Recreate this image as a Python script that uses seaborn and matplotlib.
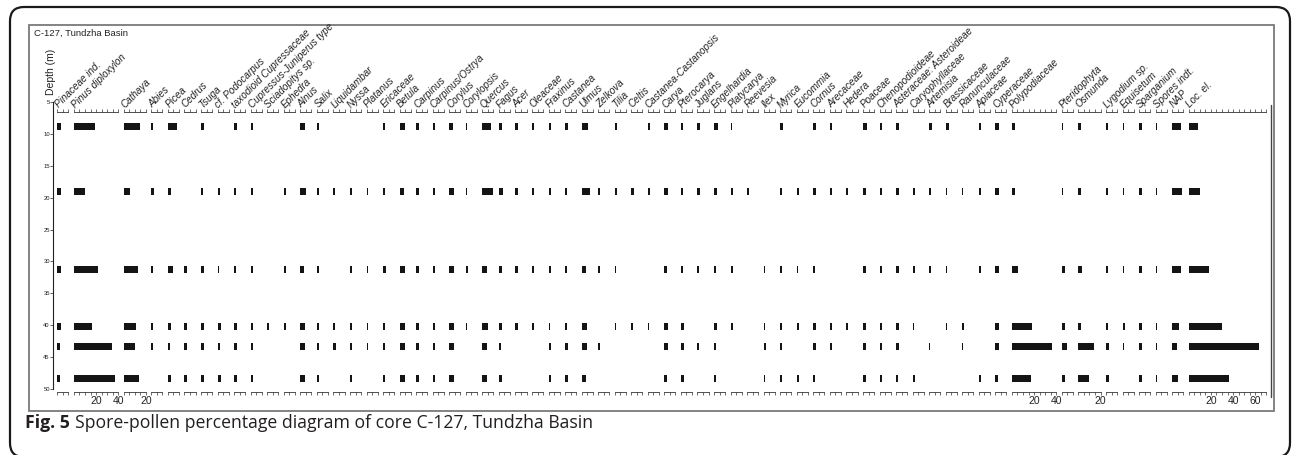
import numpy as np
import pandas as pd
import matplotlib
matplotlib.use("Agg")
import matplotlib.pyplot as plt
import seaborn as sns
from matplotlib.patches import FancyBboxPatch, Rectangle
from matplotlib.lines import Line2D
from matplotlib.transforms import IdentityTransform
from matplotlib.ticker import FixedLocator, FuncFormatter

sns.set_style("white")
plt.rcParams["font.family"] = ["Liberation Sans", "DejaVu Sans"]

# ---------------------------------------------------------------- data
depths = [8.9, 19.0, 31.2, 40.2, 43.3, 48.3]   # sample depths (m)

taxa = [
    "Pinaceae ind.", "Pinus diploxylon", "Cathaya", "Abies", "Picea", "Cedrus",
    "Tsuga", "cf. Podocarpus", "taxodioid Cupressaceae", "Cupressus-Juniperus type",
    "Sciadopitys sp.", "Ephedra", "Alnus", "Salix", "Liquidambar", "Nyssa",
    "Platanus", "Ericaceae", "Betula", "Carpinus", "Carpinus/Ostrya", "Corylus",
    "Corylopsis", "Quercus", "Fagus", "Acer", "Oleaceae", "Fraxinus", "Castanea",
    "Ulmus", "Zelkova", "Tilia", "Celtis", "Castanea-Castanopsis", "Carya",
    "Pterocarya", "Juglans", "Engelhardia", "Platycarya", "Reevesia", "Ilex",
    "Myrica", "Eucommia", "Cornus", "Arecaceae", "Hedera", "Poaceae",
    "Chenopodioideae", "Asteraceae: Asteroideae", "Caryophyllaceae", "Artemisia",
    "Brassicaceae", "Ranunculaceae", "Apiaceae", "Cyperaceae", "Polypodiaceae",
    "Pteridophyta", "Osmunda", "Lygodium sp.", "Equisetum", "Sparganium",
    "Spores indt.", "NAP", "Loc. el.",
]

# percentage-axis maximum of every column
axis_max = [10, 40, 20] + [10] * 52 + [40, 10, 20, 10, 10, 10, 10, 10, 70]

# percentages per sample, in the order of `taxa`
pct_8_9m = [3, 19.5, 14.5, 1.5, 8, 0, 2.5, 0, 2.5, 2,
            0, 0, 4, 2, 0, 0, 0, 1.5, 5, 2.5,
            2, 3, 1.5, 7.5, 3, 2, 2, 2, 2.5, 5.5,
            0, 2, 0, 1.5, 3, 2, 2, 3.5, 1, 0,
            0, 2.5, 0, 2.5, 2, 0, 3.5, 2.5, 2.5, 0,
            2.5, 2.5, 0, 2, 3, 3, 1.5, 2.5, 1.5, 1.5,
            2.5, 1, 7.5, 8.5]
pct_19_0m = [3, 10, 6, 2, 3, 0, 2, 2, 2, 2,
             0, 2, 5, 2, 1.5, 2, 1.5, 2, 4, 2.5,
             2, 4.5, 1.5, 10, 3.5, 2, 2, 2, 2, 7.5,
             1.5, 2, 2, 1.5, 3, 2, 2, 2.5, 2, 1.5,
             0, 2, 2, 2, 2, 1.5, 2.5, 2.5, 3, 2,
             1.5, 1.5, 1, 2, 3, 3, 1.5, 2, 1.5, 1.5,
             2.5, 1.5, 8.5, 10.5]
pct_31_2m = [3, 22, 13, 1.5, 5, 2, 3, 1.5, 2, 2.5,
             0, 2, 3.5, 2, 0, 2, 1, 2.5, 4.5, 2.5,
             2.5, 4.5, 2, 4.5, 2.5, 2, 2, 2, 2, 3.5,
             2, 1.5, 0, 0, 2.5, 2, 1.5, 2, 2, 0,
             1.5, 2, 1.5, 1.5, 0, 0, 2.5, 2, 2.5, 2,
             1.5, 1.5, 0, 1.5, 3, 5.5, 2.5, 3, 1.5, 1.5,
             3, 1.5, 7.5, 18]
pct_40_2m = [3.5, 16.5, 11.5, 1.5, 3, 2, 2.5, 3, 3, 2,
             2, 2, 4.5, 2, 1.5, 2, 1.5, 2, 4.5, 2.5,
             2, 4, 1.5, 5, 2.5, 2, 2, 1.5, 2, 4.5,
             0, 1.5, 1.5, 1, 3.5, 2.5, 0, 2.5, 2, 0,
             1.5, 2, 2, 2.5, 2, 1.5, 2.5, 2, 3, 1.5,
             0, 1.5, 1.5, 0, 3, 18, 2.5, 2.5, 1.5, 2,
             2.5, 1.5, 6, 30]
pct_43_3m = [2.5, 34.5, 10.5, 1.5, 2, 2, 2.5, 2.5, 3, 2,
             0, 0, 4.5, 2, 2, 2, 1.5, 2, 4.5, 3,
             2, 4, 0, 4.5, 2, 0, 0, 2, 2.5, 4.5,
             2, 0, 0, 0, 3, 2.5, 1.5, 2, 0, 0,
             2, 2, 0, 2, 1.5, 0, 2.5, 2.5, 2.5, 0,
             1, 0, 1, 0, 3, 36, 5, 14, 2.5, 1.5,
             3, 1.5, 4.5, 63.5]
pct_48_3m = [2.5, 37, 13.5, 0, 3, 2, 2.5, 3, 3, 2.5,
             0, 0, 4.5, 2, 0, 2, 0, 2, 4.5, 2.5,
             2.5, 4, 0, 4.5, 2.5, 0, 0, 2, 2.5, 4,
             0, 0, 0, 0, 2.5, 2.5, 0, 2, 0, 0,
             1.5, 2, 2, 1.5, 0, 0, 2.5, 2, 2, 2.5,
             0, 0, 0, 2, 2.5, 17.5, 2.5, 10, 2.5, 0,
             3, 1.5, 5, 36]

samples = [pct_8_9m, pct_19_0m, pct_31_2m, pct_40_2m, pct_43_3m, pct_48_3m]

records = []
for depth, row in zip(depths, samples):
    for name, value in zip(taxa, row):
        records.append({"taxon": name, "depth": depth, "pct": value})
df = pd.DataFrame(records)

# ---------------------------------------------------------------- layout
W, H = 1292, 455
fig = plt.figure(figsize=(W / 100, H / 100), dpi=100)
fig.patch.set_facecolor("white")


def fx(px):
    return px / W


def fy(py):
    return 1 - py / H


PX_PER_PCT = 1.11
GAP = 5.45
X_START = 57.3
COL_TOP, COL_BOTTOM = 112.0, 392.0
DEPTH_TOP, DEPTH_BOTTOM = 101.7, 389.3
px_per_m = (DEPTH_BOTTOM - DEPTH_TOP) / 45.0
col_ylim = (5 + (COL_BOTTOM - DEPTH_TOP) / px_per_m,
            5 + (COL_TOP - DEPTH_TOP) / px_per_m)
BAR_M = 1.1
bar_width = BAR_M / np.min(np.diff(sorted(depths)))

INK = "#141414"
AXIS_C = "#333333"

# depth axis
ax_d = fig.add_axes([fx(53.3), fy(DEPTH_BOTTOM), 0.6 / W,
                     (DEPTH_BOTTOM - DEPTH_TOP) / H])
ax_d.set_ylim(50, 5)
ax_d.set_yticks(np.arange(5, 51, 5))
ax_d.set_xticks([])
for s in ["top", "right", "bottom"]:
    ax_d.spines[s].set_visible(False)
ax_d.spines["left"].set_color("#222222")
ax_d.spines["left"].set_linewidth(0.8)
ax_d.tick_params(axis="y", direction="out", length=2, width=0.5,
                 labelsize=4.2, pad=0.5, colors="#222222", left=True)
ax_d.patch.set_visible(False)

fig.text(fx(50.5), fy(72), "Depth (m)", rotation=90, ha="center",
         va="center", fontsize=7.5, color="#222222")
fig.text(fx(34), fy(33), "C-127, Tundzha Basin", ha="left", va="center",
         fontsize=6.8, color="#222222")


def label_twenties(v, _):
    return f"{int(round(v))}" if (v > 0 and round(v) % 20 == 0) else ""


x0 = X_START
for name, vmax in zip(taxa, axis_max):
    w = vmax * PX_PER_PCT
    ax = fig.add_axes([fx(x0), fy(COL_BOTTOM), w / W,
                       (COL_BOTTOM - COL_TOP) / H])
    sub = df[df["taxon"] == name]
    sns.barplot(data=sub, x="pct", y="depth", orient="y", native_scale=True,
                color=INK, saturation=1, width=bar_width, linewidth=0,
                errorbar=None, ax=ax)
    ax.set_xlim(0, vmax)
    ax.set_ylim(*col_ylim)
    ax.set_xlabel("")
    ax.set_ylabel("")
    ax.set_yticks([])
    ax.patch.set_visible(False)
    for s in ["left", "right"]:
        ax.spines[s].set_visible(False)
    for s in ["top", "bottom"]:
        ax.spines[s].set_color(AXIS_C)
        ax.spines[s].set_linewidth(0.6)
    ax.xaxis.set_major_locator(FixedLocator(np.arange(0, vmax + 0.1, 5)))
    ax.xaxis.set_major_formatter(FuncFormatter(label_twenties))
    ax.tick_params(axis="x", top=True, bottom=True, labeltop=False,
                   direction="out", length=2.5, width=0.5, labelsize=7.5,
                   pad=0.5, colors=AXIS_C, labelcolor="#222222")
    fig.text(fx(x0 + 1.5), fy(108.5), name, rotation=45,
             rotation_mode="anchor", ha="left", va="baseline",
             fontsize=7.1, style="italic", color="#222222")
    x0 += w + GAP

# right-hand closing line of the diagram
fig.add_artist(Line2D([fx(1270.5), fx(1270.5)], [fy(105), fy(397)],
                      color="#444444", lw=1.0))

# frame around the diagram
fig.add_artist(Rectangle((fx(29), fy(411)), (1274 - 29) / W, (411 - 25) / H,
                         transform=fig.transFigure, fill=False,
                         ec="#7a7a7a", lw=1.3))

# rounded outer border
fig.add_artist(FancyBboxPatch((10, H - 457), 1280, 450,
                              boxstyle="round,pad=0,rounding_size=14",
                              transform=IdentityTransform(), fill=False,
                              ec="#1a1a1a", lw=1.6))

# caption
renderer = fig.canvas.get_renderer()
cap_bold = fig.text(fx(25), fy(423), "Fig. 5", ha="left", va="center",
                    fontsize=12.7, weight="bold", family="Open Sans",
                    color="#231f20")
bb = cap_bold.get_window_extent(renderer=renderer)
fig.text(bb.x1 / W + 5 / W, fy(423),
         "Spore-pollen percentage diagram of core C-127, Tundzha Basin",
         ha="left", va="center", fontsize=12.7, family="Open Sans",
         color="#231f20")

fig.savefig("out.png", dpi=100, facecolor="white")
